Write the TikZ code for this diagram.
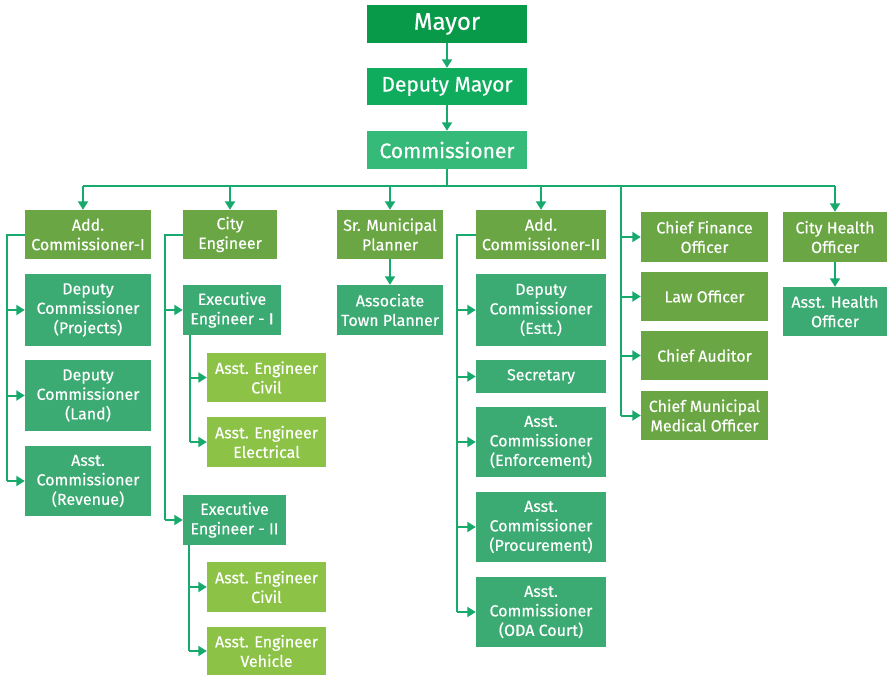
\documentclass[tikz,border=0pt]{standalone}
\usepackage{fontspec}
\setmainfont{Fira Sans}[UprightFeatures={FakeBold=0.35}]
\usetikzlibrary{arrows.meta,positioning}
\definecolor{linegreen}{RGB}{24,170,108}
\definecolor{mayorgreen}{RGB}{8,154,72}
\definecolor{deputygreen}{RGB}{16,172,94}
\definecolor{commgreen}{RGB}{54,186,122}
\definecolor{olivegreen}{RGB}{106,166,67}
\definecolor{tealgreen}{RGB}{60,170,115}
\definecolor{limegreen}{RGB}{140,195,70}

\begin{document}
\begin{tikzpicture}[x=1pt,y=-1pt,
    box/.style={rectangle,inner sep=0pt,text=white,align=center,
      font=\fontsize{16}{19.5}\selectfont},
    headbox/.style={box,minimum width=160pt},
    olive/.style={box,fill=olivegreen},
    teal/.style={box,fill=tealgreen},
    lime/.style={box,fill=limegreen,minimum width=119pt},
    link/.style={draw=linegreen,line width=2pt},
    arr/.style={link,-{Triangle[length=8.5pt,width=10pt]}}]
  \useasboundingbox (0,0) rectangle (887,675);

  % top of the chain
  \node[headbox,fill=mayorgreen,minimum height=38pt,
    font=\fontsize{24}{28}\selectfont] (mayor) at (447,24) {Mayor};
  \node[headbox,fill=deputygreen,minimum height=37pt,
    font=\fontsize{21}{24}\selectfont] (dmayor) at (447,86.5) {Deputy Mayor};
  \node[headbox,fill=commgreen,minimum height=38pt,
    font=\fontsize{21}{24}\selectfont] (comm) at (447,150) {Commissioner};

  % second row
  \node[olive,minimum width=126pt,minimum height=49pt] (ac1) at (88,234.5)
    {Add.\\Commissioner-I};
  \node[olive,minimum width=94pt,minimum height=49pt] (ceng) at (230,234.5)
    {City\\Engineer};
  \node[olive,minimum width=106pt,minimum height=49pt] (srp) at (390,234.5)
    {Sr. Municipal\\Planner};
  \node[olive,minimum width=130pt,minimum height=49pt] (ac2) at (541,234.5)
    {Add.\\Commissioner-II};
  \node[olive,minimum width=104pt,minimum height=50pt] (cho) at (835,237)
    {City Health\\Officer};

  % under Add. Commissioner-I
  \node[teal,minimum width=126pt,minimum height=72pt] (dcp) at (88,310)
    {Deputy\\Commissioner\\(Projects)};
  \node[teal,minimum width=126pt,minimum height=71pt] (dcl) at (88,395.5)
    {Deputy\\Commissioner\\(Land)};
  \node[teal,minimum width=126pt,minimum height=70pt] (acr) at (88,481)
    {Asst.\\Commissioner\\(Revenue)};

  % under City Engineer
  \node[teal,minimum width=98pt,minimum height=50pt] (ee1) at (232,310)
    {Executive\\Engineer - I};
  \node[lime,minimum height=49pt] (aec1) at (266.5,377.5)
    {Asst. Engineer\\Civil};
  \node[lime,minimum height=50pt] (aee1) at (266.5,442)
    {Asst. Engineer\\Electrical};
  \node[teal,minimum width=103pt,minimum height=50pt] (ee2) at (234.5,520)
    {Executive\\Engineer - II};
  \node[lime,minimum height=50pt] (aec2) at (266.5,587)
    {Asst. Engineer\\Civil};
  \node[lime,minimum height=48pt] (aev2) at (266.5,651)
    {Asst. Engineer\\Vehicle};

  \node[teal,minimum width=106pt,minimum height=50pt] (atp) at (390,310)
    {Associate\\Town Planner};

  % under Add. Commissioner-II
  \node[teal,minimum width=130pt,minimum height=72pt] (dce) at (541,310)
    {Deputy\\Commissioner\\(Estt.)};
  \node[teal,minimum width=130pt,minimum height=33pt] (sec) at (541,376.5)
    {Secretary};
  \node[teal,minimum width=130pt,minimum height=70pt] (ace) at (541,442)
    {Asst.\\Commissioner\\(Enforcement)};
  \node[teal,minimum width=130pt,minimum height=70pt] (acp) at (541,527)
    {Asst.\\Commissioner\\(Procurement)};
  \node[teal,minimum width=130pt,minimum height=70pt] (aco) at (541,612)
    {Asst.\\Commissioner\\(ODA Court)};

  % officers straight under the Commissioner
  \node[olive,minimum width=127pt,minimum height=50pt] (cfo) at (704.5,237)
    {Chief Finance\\Officer};
  \node[olive,minimum width=127pt,minimum height=49pt] (law) at (704.5,296.5)
    {Law Officer};
  \node[olive,minimum width=127pt,minimum height=49pt] (cau) at (704.5,355.5)
    {Chief Auditor};
  \node[olive,minimum width=127pt,minimum height=49pt] (cmo) at (704.5,415.5)
    {Chief Municipal\\Medical Officer};

  \node[teal,minimum width=104pt,minimum height=49pt] (aho) at (835,311.5)
    {Asst. Health\\Officer};

  % connectors
  \draw[arr] (mayor) -- (dmayor);
  \draw[arr] (dmayor) -- (comm);
  \coordinate (bus) at (447,186);
  \draw[link] (comm) -- (bus);
  \draw[link] ([xshift=-5pt]ac1.north |- bus) -- (cho.north |- bus);
  \foreach \n in {ceng,srp,ac2,cho}
    \draw[arr] (\n.north |- bus) -- (\n.north);
  \draw[arr] ([xshift=-5pt]ac1.north |- bus) -- ([xshift=-5pt]ac1.north);
  \coordinate (spine) at (621,186);
  \draw[link] (spine) -- (spine |- cmo.west);
  \foreach \n in {cfo,law,cau,cmo}
    \draw[arr] (spine |- \n.west) -- (\n.west);

  \draw[link] (ac1.west) -- ++(-18,0) coordinate (s1) -- (s1 |- acr.west);
  \foreach \n in {dcp,dcl,acr}
    \draw[arr] (s1 |- \n.west) -- (\n.west);

  \draw[link] (ceng.west) -- ++(-18,0) coordinate (s2) -- (s2 |- ee2.west);
  \foreach \n in {ee1,ee2}
    \draw[arr] (s2 |- \n.west) -- (\n.west);
  \draw[link] ([xshift=7pt]ee1.south west) coordinate (s3) -- (s3 |- aee1.west);
  \foreach \n in {aec1,aee1}
    \draw[arr] (s3 |- \n.west) -- (\n.west);
  \draw[link] ([xshift=6pt]ee2.south west) coordinate (s4) -- (s4 |- aev2.west);
  \foreach \n in {aec2,aev2}
    \draw[arr] (s4 |- \n.west) -- (\n.west);

  \draw[arr] (srp) -- (atp);

  \draw[link] (ac2.west) -- ++(-19,0) coordinate (s5) -- (s5 |- aco.west);
  \foreach \n in {dce,sec,ace,acp,aco}
    \draw[arr] (s5 |- \n.west) -- (\n.west);

  \draw[arr] (cho) -- (aho);
\end{tikzpicture}
\end{document}
